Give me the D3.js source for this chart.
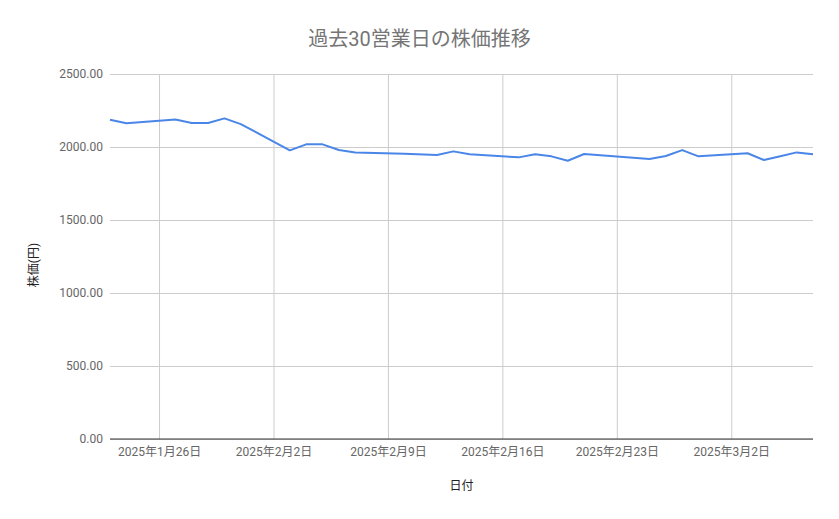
<!DOCTYPE html>
<html>
<head>
<meta charset="utf-8">
<script src="https://cdn.jsdelivr.net/npm/d3@7/dist/d3.min.js"></script>
<style>
  body { margin: 0; background: #fff; }
  text { font-family: Roboto, "Noto Sans CJK JP", sans-serif; }
</style>
</head>
<body>
<div id="chart"></div>
<script>
// Data
var dates = ["2025-01-23", "2025-01-24", "2025-01-27", "2025-01-28", "2025-01-29", "2025-01-30", "2025-01-31",
  "2025-02-03", "2025-02-04", "2025-02-05", "2025-02-06", "2025-02-07",
  "2025-02-10", "2025-02-12", "2025-02-13", "2025-02-14",
  "2025-02-17", "2025-02-18", "2025-02-19", "2025-02-20", "2025-02-21",
  "2025-02-25", "2025-02-26", "2025-02-27", "2025-02-28",
  "2025-03-03", "2025-03-04", "2025-03-05", "2025-03-06", "2025-03-07"];
var prices = [2187, 2162, 2189, 2164, 2164, 2196, 2157,
  1977, 2018, 2018, 1979, 1963,
  1954, 1945, 1970, 1950,
  1929, 1950, 1936, 1906, 1952,
  1918, 1938, 1979, 1936,
  1957, 1911, 1936, 1963, 1950];
var xTicks = ["2025-01-26", "2025-02-02", "2025-02-09", "2025-02-16", "2025-02-23", "2025-03-02"];
var yTicks = [0, 500, 1000, 1500, 2000, 2500];
var title = "過去30営業日の株価推移";
var xTitle = "日付";
var yTitle = "株価(円)";

var w = 839, h = 519;
var margin = {top: 74, right: 26, bottom: 80, left: 110};

var parse = d3.timeParse("%Y-%m-%d");
var data = dates.map(function(d, i) { return {date: parse(d), value: prices[i]}; });

var svg = d3.select("#chart").append("svg")
  .attr("width", w)
  .attr("height", h);

var x = d3.scaleTime()
  .domain([parse("2025-01-23"), parse("2025-03-07")])
  .range([margin.left, w - margin.right]);

var y = d3.scaleLinear()
  .domain([0, 2500])
  .range([h - margin.bottom, margin.top]);

// horizontal gridlines + y labels
var yAxis = d3.axisLeft(y)
  .tickValues(yTicks)
  .tickSize(-(w - margin.left - margin.right))
  .tickPadding(7)
  .tickFormat(function(d) { return d3.format(".2f")(d); });

svg.append("g")
  .attr("transform", "translate(" + margin.left + ",0)")
  .call(yAxis)
  .call(function(g) {
    g.select(".domain").remove();
    g.selectAll(".tick line").attr("stroke", "#cccccc");
    g.selectAll(".tick text").attr("fill", "#666").style("font-size", "12px");
  });

// vertical gridlines + x labels
var xAxis = d3.axisBottom(x)
  .tickValues(xTicks.map(parse))
  .tickSize(-(h - margin.top - margin.bottom))
  .tickPadding(8)
  .tickFormat(function(d) { return d3.timeFormat("%Y年%-m月%-d日")(d); });

svg.append("g")
  .attr("transform", "translate(0," + (h - margin.bottom) + ")")
  .call(xAxis)
  .call(function(g) {
    g.select(".domain").remove();
    g.selectAll(".tick line").attr("stroke", "#cccccc");
    g.selectAll(".tick text").attr("fill", "#666").style("font-size", "12px");
  });

// baseline
svg.append("line")
  .attr("x1", margin.left)
  .attr("x2", w - margin.right)
  .attr("y1", y(0))
  .attr("y2", y(0))
  .attr("stroke", "#333")
  .attr("stroke-width", 1);

// the line
var line = d3.line()
  .x(function(d) { return x(d.date); })
  .y(function(d) { return y(d.value); });

svg.append("path")
  .datum(data)
  .attr("d", line)
  .attr("fill", "none")
  .attr("stroke", "#4a86e8")
  .attr("stroke-width", 2)
  .attr("stroke-linejoin", "round");

// titles
svg.append("text")
  .attr("x", w / 2)
  .attr("y", 46)
  .attr("text-anchor", "middle")
  .attr("fill", "#757575")
  .style("font-size", "20px")
  .text(title);

svg.append("text")
  .attr("x", (margin.left + w - margin.right) / 2)
  .attr("y", 490)
  .attr("text-anchor", "middle")
  .attr("fill", "#222")
  .style("font-size", "12px")
  .text(xTitle);

svg.append("text")
  .attr("transform", "translate(38,265) rotate(-90)")
  .attr("text-anchor", "middle")
  .attr("fill", "#222")
  .style("font-size", "12px")
  .text(yTitle);
</script>
</body>
</html>
